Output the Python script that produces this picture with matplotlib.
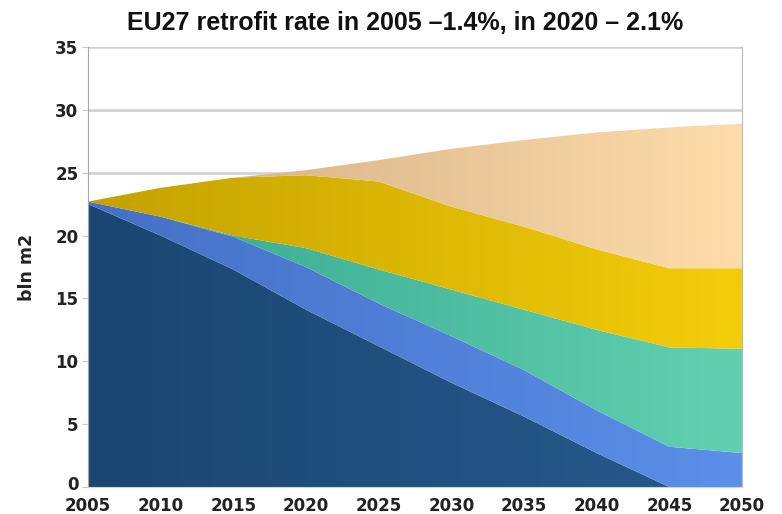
import numpy as np
import matplotlib
matplotlib.use("Agg")
import matplotlib.pyplot as plt
import matplotlib.transforms as mtransforms
from matplotlib.colors import LinearSegmentedColormap

# building floor area by renovation state, cumulative boundaries (bln m2)
years = [2005, 2010, 2015, 2020, 2025, 2030, 2035, 2040, 2045, 2050]
dark_top = [22.5, 20.0, 17.3, 14.1, 11.2, 8.3, 5.6, 2.7, 0.0, 0.0]
blue_top = [22.7, 21.5, 19.9, 17.5, 14.6, 12.0, 9.3, 6.1, 3.2, 2.7]
teal_top = [22.7, 21.5, 20.0, 19.0, 17.3, 15.7, 14.1, 12.5, 11.1, 11.0]
gold_top = [22.7, 23.8, 24.6, 24.8, 24.3, 22.3, 20.7, 18.9, 17.4, 17.4]
total = [22.7, 23.8, 24.6, 25.2, 26.0, 26.9, 27.6, 28.2, 28.6, 28.9]

xticks = [2005, 2010, 2015, 2020, 2025, 2030, 2035, 2040, 2045, 2050]
yticks = [0, 5, 10, 15, 20, 25, 30, 35]

# left -> right shading of each band
band_colors = [
    ("#1b4672", "#265b8c"),
    ("#4670c6", "#5b8fe9"),
    ("#35a78f", "#62d0b0"),
    ("#c4a200", "#f4cd0a"),
    ("#d0aa80", "#fddcaa"),
]

fig = plt.figure(figsize=(7.82, 5.14), dpi=100)
ax = fig.add_axes([0.1125, 0.0525, 0.8363, 0.8561])

x = np.array(years, dtype=float)
bounds = [np.zeros(len(years)), dark_top, blue_top, teal_top, gold_top, total]
grad = np.linspace(0, 1, 256).reshape(1, -1)

for i, (c0, c1) in enumerate(band_colors):
    lo = np.array(bounds[i], dtype=float)
    hi = np.array(bounds[i + 1], dtype=float)
    poly = ax.fill_between(x, lo, hi, facecolor="none", edgecolor="none", zorder=2)
    cmap = LinearSegmentedColormap.from_list("band%d" % i, [c0, c1])
    im = ax.imshow(grad, extent=[2005, 2050, 0, 35], aspect="auto", cmap=cmap,
                   origin="lower", interpolation="bilinear", zorder=2 + i * 0.01)
    im.set_clip_path(poly.get_paths()[0], transform=ax.transData)

ax.set_xlim(2005, 2050)
ax.set_ylim(0, 35)
ax.set_xticks(xticks)
ax.set_yticks(yticks)
ax.yaxis.grid(True, color="#cfcfcf", linewidth=1.8, zorder=0)
ax.set_axisbelow(True)

ax.spines["top"].set_visible(False)
ax.spines["left"].set_color("#a8a8a8")
ax.spines["right"].set_color("#b8b8b8")
ax.spines["right"].set_linewidth(0.8)
ax.spines["bottom"].set_color("#c8d4e4")

ax.tick_params(axis="y", length=4, color="#c8c8c8", pad=3)
ax.tick_params(axis="x", length=0, pad=7)
for lab in ax.get_xticklabels() + ax.get_yticklabels():
    lab.set_fontfamily("DejaVu Sans")
    lab.set_fontweight("bold")
    lab.set_fontsize(12)
    lab.set_color("#222222")

# lift the "0" label a little so it clears the first year label
zero_lab = ax.get_yticklabels()[0]
zero_lab.set_transform(zero_lab.get_transform() +
                       mtransforms.ScaledTranslation(0, 3 / 72, fig.dpi_scale_trans))

ax.set_ylabel("bln m2", fontsize=12.5, fontweight="bold", family="DejaVu Sans",
              color="#222222", labelpad=14)
fig.text(0.518, 0.955, "EU27 retrofit rate in 2005 \u20131.4%, in 2020 \u2013 2.1%",
         ha="center", va="center", fontsize=18, fontweight="bold",
         family="Liberation Sans", color="#111111")

fig.savefig("out.png", dpi=100)
